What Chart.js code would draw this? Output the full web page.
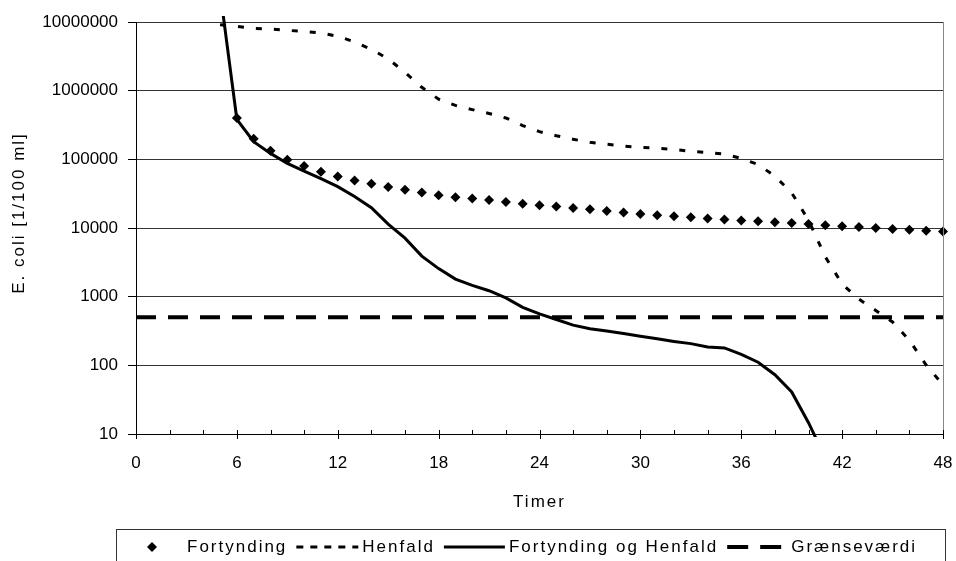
<!DOCTYPE html>
<html>
<head>
<meta charset="utf-8">
<script src="https://cdn.jsdelivr.net/npm/chart.js@4.4.1/dist/chart.umd.min.js"></script>
<style>
  html, body { margin: 0; padding: 0; background: #fff; }
</style>
</head>
<body>
<canvas id="myChart" width="956" height="561"></canvas>
<script>
// hours 5..48
const hours = [5, 6, 7, 8, 9, 10, 11, 12, 13, 14, 15, 16, 17, 18, 19, 20, 21, 22, 23, 24, 25, 26,
  27, 28, 29, 30, 31, 32, 33, 34, 35, 36, 37, 38, 39, 40, 41, 42, 43, 44, 45, 46, 47, 48];

const fortynding = [null, 400000, 200000, 133000, 99000, 80000, 66000, 56000, 49000, 44000, 39500,
  36000, 33000, 30000, 28000, 27000, 25500, 24000, 22500, 21500, 20500, 19500, 18700, 17700, 16800,
  16000, 15300, 14800, 14300, 13800, 13300, 12900, 12500, 12100, 11800, 11400, 11000, 10600, 10300,
  10000, 9700, 9400, 9100, 8900];

const henfald = [9100000, 8650000, 8070000, 7900000, 7570000, 7270000, 6930000, 6200000, 5130000,
  4000000, 2900000, 1850000, 1120000, 750000, 610000, 530000, 465000, 400000, 310000, 253000, 221000,
  196000, 177000, 166000, 156000, 149000, 146000, 139000, 131000, 126000, 119000, 103000, 84000, 57000,
  32500, 13000, 3800, 1530, 920, 630, 428, 232, 101, 52];

const fortyndingOgHenfald = [28000000, 380000, 181000, 122000, 87000, 67500, 52500, 40000, 28700,
  19800, 11400, 7100, 3900, 2560, 1800, 1460, 1220, 960, 700, 560, 465, 385, 342, 317, 291, 266, 243,
  223, 207, 185, 179, 144, 111, 73, 41, 14.6, 4.5, null, null, null, null, null, null, null];

const graenseHours = [0, 48];
const graenseVaerdi = [500, 500];

const yTicks = [10, 100, 1000, 10000, 100000, 1000000, 10000000];
const xTicks = [0, 6, 12, 18, 24, 30, 36, 42, 48];
const seriesNames = ["Fortynding", "Henfald", "Fortynding og Henfald", "Grænseværdi"];
const xTitle = "Timer";
const yTitle = "E. coli [1/100 ml]";

const fontFamily = "'Liberation Sans', Arial, sans-serif";
const toPoints = (xs, ys) => xs.map((x, i) => ({ x: x, y: ys[i] }));

// axis ticks, titles, border and the boxed legend underneath
const excelLook = {
  id: "excelLook",
  afterDraw(chart) {
    const ctx = chart.ctx;
    const area = chart.chartArea;
    const xs = chart.scales.x;
    ctx.save();

    ctx.strokeStyle = "#888";
    ctx.lineWidth = 1;
    ctx.beginPath();
    ctx.moveTo(area.right + 0.5, area.top);
    ctx.lineTo(area.right + 0.5, area.bottom);
    ctx.stroke();

    ctx.strokeStyle = "#000";
    for (let h = 0; h <= 48; h += 2) {
      const px = Math.round(xs.getPixelForValue(h)) + 0.5;
      ctx.beginPath();
      ctx.moveTo(px, area.bottom - 4);
      ctx.lineTo(px, area.bottom + (h % 6 === 0 ? 5 : 0));
      ctx.stroke();
    }

    ctx.fillStyle = "#000";
    ctx.font = "17px " + fontFamily;
    ctx.letterSpacing = "2px";
    ctx.textAlign = "center";
    ctx.textBaseline = "middle";
    ctx.fillText(xTitle, (area.left + area.right) / 2, 502);
    ctx.save();
    ctx.translate(19, 213);
    ctx.rotate(-Math.PI / 2);
    ctx.fillText(yTitle, 0, 0);
    ctx.restore();

    // legend
    ctx.strokeStyle = "#333";
    ctx.strokeRect(116.5, 529.5, 829, 45);
    const ly = 547;
    ctx.textAlign = "left";
    ctx.strokeStyle = "#000";

    ctx.beginPath();
    ctx.moveTo(152, ly - 5); ctx.lineTo(157, ly); ctx.lineTo(152, ly + 5); ctx.lineTo(147, ly);
    ctx.closePath();
    ctx.fill();
    let x = 187;
    ctx.fillText(seriesNames[0], x, ly);
    x += ctx.measureText(seriesNames[0]).width;

    const samples = [
      { w: 62, dash: [7, 7], lw: 3, gap: 4 },
      { w: 61, dash: [], lw: 3, gap: 4 },
      { w: 55, dash: [21, 12], lw: 4, gap: 9 }
    ];
    samples.forEach((s, i) => {
      x += 9;
      ctx.setLineDash(s.dash);
      ctx.lineWidth = s.lw;
      ctx.beginPath();
      ctx.moveTo(x, ly);
      ctx.lineTo(x + s.w, ly);
      ctx.stroke();
      ctx.setLineDash([]);
      x += s.w + s.gap;
      ctx.fillText(seriesNames[i + 1], x, ly);
      x += ctx.measureText(seriesNames[i + 1]).width;
    });

    ctx.restore();
  }
};

const ctx = document.getElementById("myChart").getContext("2d");
const chart = new Chart(ctx, {
  type: "line",
  data: {
    datasets: [
      {
        label: seriesNames[0],
        data: toPoints(hours, fortynding),
        showLine: false,
        pointStyle: "rectRot",
        pointRadius: 5,
        pointBackgroundColor: "#000",
        pointBorderWidth: 0,
        clip: false
      },
      {
        label: seriesNames[1],
        data: toPoints(hours, henfald),
        borderColor: "#000",
        borderWidth: 3,
        borderDash: [6, 12],
        pointRadius: 0
      },
      {
        label: seriesNames[2],
        data: toPoints(hours, fortyndingOgHenfald),
        borderColor: "#000",
        borderWidth: 3,
        pointRadius: 0,
        clip: { left: 0, top: 6, right: 0, bottom: 3 }
      },
      {
        label: seriesNames[3],
        data: toPoints(graenseHours, graenseVaerdi),
        borderColor: "#000",
        borderWidth: 4,
        borderDash: [20, 12],
        pointRadius: 0
      }
    ]
  },
  options: {
    responsive: false,
    devicePixelRatio: 1,
    animation: false,
    layout: { padding: { top: 22, right: 13, bottom: 50, left: 0 } },
    plugins: {
      legend: { display: false },
      tooltip: { enabled: false }
    },
    scales: {
      x: {
        type: "linear",
        min: 0,
        max: 48,
        afterBuildTicks: s => { s.ticks = xTicks.map(v => ({ value: v })); },
        afterFit: s => { s.height = 77; s.paddingLeft = 0; s.paddingRight = 0; },
        ticks: { color: "#000", font: { family: fontFamily, size: 17 }, padding: 19, maxRotation: 0, autoSkip: false },
        grid: { drawOnChartArea: false, drawTicks: false },
        border: { color: "#000", width: 1 }
      },
      y: {
        type: "logarithmic",
        min: 10,
        max: 10000000,
        afterBuildTicks: s => { s.ticks = yTicks.map(v => ({ value: v })); },
        afterFit: s => { s.width = 136; },
        ticks: { color: "#000", font: { family: fontFamily, size: 17 }, padding: 10, callback: v => String(v) },
        grid: { color: "#333", tickColor: "#000", tickLength: 8 },
        border: { color: "#000", width: 1 }
      }
    }
  },
  plugins: [excelLook]
});
</script>
</body>
</html>
